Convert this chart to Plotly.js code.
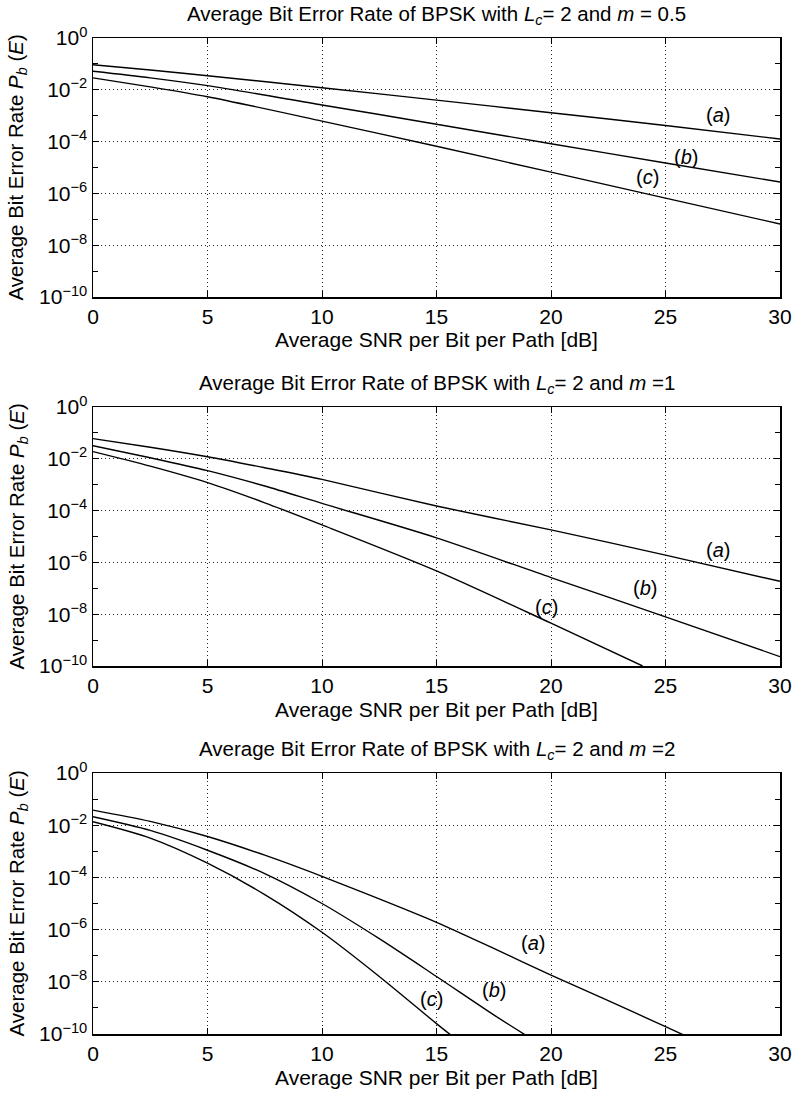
<!DOCTYPE html>
<html><head><meta charset="utf-8">
<script src="https://cdn.plot.ly/plotly-3.0.1.min.js"></script>
<style>html,body{margin:0;padding:0;background:#fff}#chart{width:795px;height:1098px}</style>
</head><body><div id="chart"></div>
<script>
// ---- tick labels ----
const snrTicks = [0, 5, 10, 15, 20, 25, 30];
const berTickVals = [1, 1e-2, 1e-4, 1e-6, 1e-8, 1e-10];
const berTickText = ['10<sup>0</sup>', '10<sup>−2</sup>', '10<sup>−4</sup>', '10<sup>−6</sup>', '10<sup>−8</sup>', '10<sup>−10</sup>'];
const berMinorVals = [1e-1, 1e-3, 1e-5, 1e-7, 1e-9];
const curveNames = ['(<i>a</i>)', '(<i>b</i>)', '(<i>c</i>)'];
const panelTitles = [
  'Average Bit Error Rate of BPSK with <i>L<sub>c</sub></i>= 2 and <i>m</i> = 0.5',
  'Average Bit Error Rate of BPSK with <i>L<sub>c</sub></i>= 2 and <i>m</i> =1',
  'Average Bit Error Rate of BPSK with <i>L<sub>c</sub></i>= 2 and <i>m</i> =2'
];
const xTitle = 'Average SNR per Bit per Path [dB]';
const yTitle = 'Average Bit Error Rate <i>P<sub>b</sub></i> (<i>E</i>)';

// ---- m = 0.5 ----
const m05_snr = [0, 2.5, 5, 10, 15, 20, 25, 30];
const m05_a = [9.3e-2, 5.8e-2, 3.5e-2, 1.2e-2, 4.0e-3, 1.3e-3, 4.2e-4, 1.26e-4];
const m05_b = [5.2e-2, 2.9e-2, 1.45e-2, 2.6e-3, 4.7e-4, 8.3e-5, 1.5e-5, 2.75e-6];
const m05_c = [2.9e-2, 1.3e-2, 5.4e-3, 6.2e-4, 6.6e-5, 6.6e-6, 6.6e-7, 6.6e-8];

// ---- m = 1 ----
const m1_snr = [0, 2.5, 5, 7.5, 10, 15, 20, 25, 30];
const m1_a = [6.0e-2, 2.8e-2, 1.2e-2, 4.5e-3, 1.6e-3, 1.5e-4, 1.8e-5, 1.9e-6, 1.86e-7];
const m1_b = [3.2e-2, 1.1e-2, 3.5e-3, 8.9e-4, 1.9e-4, 8.9e-6, 2.6e-7, 7.9e-9, 2.3e-10];
const m1_c_snr = [0, 2.5, 5, 7.5, 10, 15, 20, 24];
const m1_c = [1.9e-2, 5.2e-3, 1.2e-3, 2.0e-4, 2.8e-5, 4.7e-7, 4.5e-9, 1.0e-10];

// ---- m = 2 ----
const m2_a_snr = [0, 2.5, 5, 7.5, 10, 12.5, 15, 17.5, 20, 22.5, 25, 26];
const m2_a = [3.8e-2, 1.4e-2, 3.7e-3, 7.1e-4, 1.1e-4, 1.5e-5, 1.9e-6, 1.9e-7, 1.8e-8, 1.9e-9, 1.9e-10, 7.6e-11];
const m2_b_snr = [0, 2.5, 5, 7.5, 10, 12.5, 15, 17.5, 19];
const m2_b = [2.1e-2, 6.3e-3, 1.1e-3, 1.4e-4, 1.0e-5, 4.5e-7, 1.6e-8, 5.4e-10, 7.9e-11];
const m2_c_snr = [0, 2.5, 5, 7.5, 10, 12.5, 15, 16];
const m2_c = [1.35e-2, 3.2e-3, 3.5e-4, 2.2e-5, 7.9e-7, 1.6e-8, 2.5e-10, 5e-11];

// ---- label anchor points (x in dB, y in log10 units) ----
const labelPos = [
  [[27.3, -2.97], [25.9, -4.58], [24.2, -5.38]],
  [[27.3, -5.53], [24.1, -7.0], [19.8, -7.73]],
  [[19.2, -6.5], [17.5, -8.33], [14.8, -8.65]]
];

const panels = [
  [[m05_snr, m05_a], [m05_snr, m05_b], [m05_snr, m05_c]],
  [[m1_snr, m1_a], [m1_snr, m1_b], [m1_c_snr, m1_c]],
  [[m2_a_snr, m2_a], [m2_b_snr, m2_b], [m2_c_snr, m2_c]]
];

const W = 795, H = 1098;
const plotLeft = 93, plotRight = 780;
const plotTops = [38, 407, 773], plotBottoms = [297, 666, 1034];
const FONT = 'Liberation Sans, Arial, sans-serif';

const traces = [];
const layout = {
  width: W, height: H, margin: {l: 0, r: 0, t: 0, b: 0},
  paper_bgcolor: '#fff', plot_bgcolor: '#fff', showlegend: false,
  font: {family: FONT, size: 20, color: '#000'},
  annotations: []
};

panels.forEach((panel, i) => {
  const sfx = i === 0 ? '' : String(i + 1);
  panel.forEach(([xs, ys]) => {
    traces.push({x: xs, y: ys, type: 'scatter', mode: 'lines',
      xaxis: 'x' + sfx, yaxis: 'y' + sfx,
      line: {color: '#000', width: 1.4, shape: 'spline', smoothing: 0.8}, hoverinfo: 'skip'});
  });
  const yd = [1 - plotBottoms[i] / H, 1 - plotTops[i] / H];
  layout['xaxis' + sfx] = {
    domain: [plotLeft / W, plotRight / W], anchor: 'y' + sfx, range: [0, 30],
    tickmode: 'array', tickvals: snrTicks, ticks: 'inside', ticklen: 6, tickwidth: 1, tickcolor: '#000',
    showline: true, linecolor: '#000', linewidth: 1.5, mirror: 'ticks',
    showgrid: true, gridcolor: '#222', griddash: '1px,3px', gridwidth: 1, zeroline: false,
    tickfont: {family: FONT, size: 21, color: '#000'}, fixedrange: true
  };
  layout['yaxis' + sfx] = {
    domain: yd, anchor: 'x' + sfx, type: 'log', range: [-10, 0],
    tickmode: 'array', tickvals: berTickVals, ticktext: berTickText,
    ticks: 'inside', ticklen: 6, tickwidth: 1, tickcolor: '#000',
    minor: {tickmode: 'array', tickvals: berMinorVals, ticks: 'inside', ticklen: 5, tickcolor: '#000', showgrid: false},
    showline: true, linecolor: '#000', linewidth: 1.5, mirror: 'ticks',
    showgrid: true, gridcolor: '#222', griddash: '1px,3px', gridwidth: 1, zeroline: false,
    tickfont: {family: FONT, size: 21, color: '#000'}, fixedrange: true
  };
  const cx = (plotLeft + plotRight) / 2 / W;
  layout.annotations.push({text: panelTitles[i], xref: 'paper', yref: 'paper', x: cx, y: 1 - (plotTops[i] - 23) / H,
    xanchor: 'center', yanchor: 'middle', showarrow: false, font: {family: FONT, size: 20.5, color: '#000'}});
  layout.annotations.push({text: xTitle, xref: 'paper', yref: 'paper', x: cx, y: 1 - (plotBottoms[i] + 43) / H,
    xanchor: 'center', yanchor: 'middle', showarrow: false, font: {family: FONT, size: 21, color: '#000'}});
  layout.annotations.push({text: yTitle, xref: 'paper', yref: 'paper', x: 17 / W, y: 1 - (plotTops[i] + plotBottoms[i]) / 2 / H,
    xanchor: 'center', yanchor: 'middle', textangle: -90, showarrow: false, font: {family: FONT, size: 20.5, color: '#000'}});
  labelPos[i].forEach(([lx, ly], k) => {
    layout.annotations.push({text: curveNames[k], xref: 'x' + sfx, yref: 'y' + sfx, x: lx, y: ly,
      xanchor: 'center', yanchor: 'middle', showarrow: false, font: {family: FONT, size: 20, color: '#000'}});
  });
});

Plotly.newPlot('chart', traces, layout, {displayModeBar: false, staticPlot: true});
</script>
</body></html>
